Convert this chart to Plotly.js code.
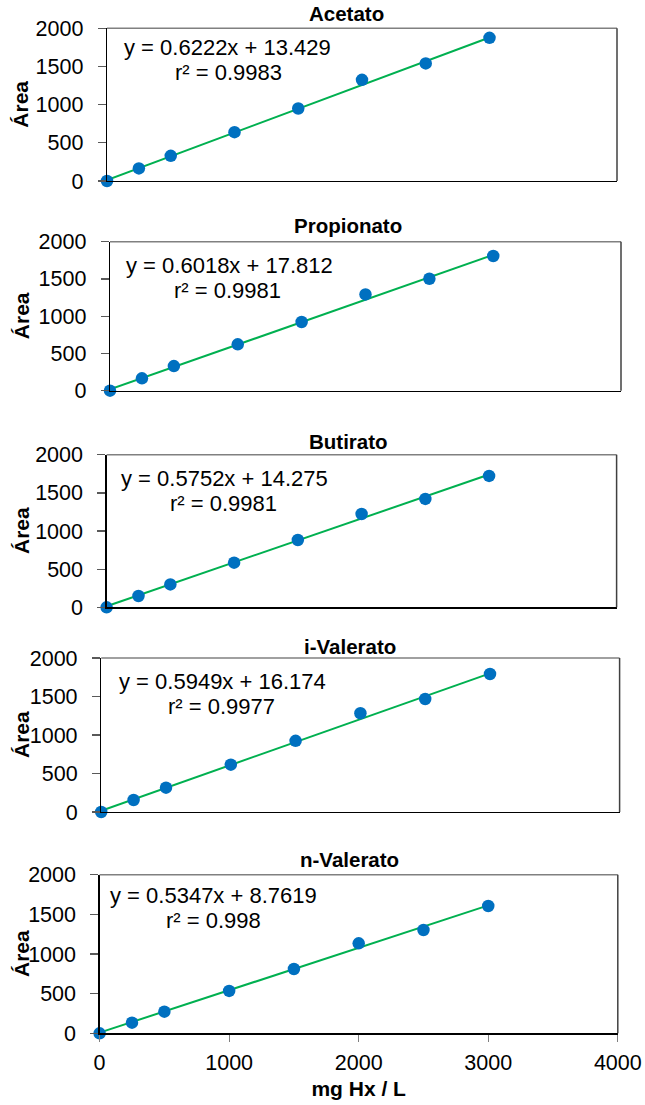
<!DOCTYPE html>
<html>
<head>
<meta charset="utf-8">
<script src="https://cdn.plot.ly/plotly-3.0.1.min.js"></script>
<style>
  html, body { margin: 0; padding: 0; background: #ffffff; }
  #chart { width: 645px; height: 1105px; }
</style>
</head>
<body>
<div id="chart"></div>
<script>
// ---------- data ----------
const concentrations = [0, 250, 500, 1000, 1500, 2000, 2500, 3000];   // mg Hx / L
const panelTitles = ["Acetato", "Propionato", "Butirato", "i-Valerato", "n-Valerato"];

const acetato    = [0, 165, 330, 640, 950, 1325, 1540, 1875];
const propionato = [0, 166, 330, 622, 922, 1292, 1503, 1808];
const butirato   = [0, 148, 300, 585, 882, 1223, 1420, 1722];
const iValerato  = [0, 156, 316, 615, 924, 1283, 1468, 1792];
const nValerato  = [0, 134, 273, 534, 811, 1134, 1303, 1605];

// trend-line end points (x = 0 and x = 3000), from the equations shown
const fitX = [0, 3000];
const acetatoFit    = [13.429, 1880.0];
const propionatoFit = [17.812, 1823.2];
const butiratoFit   = [14.275, 1739.9];
const iValeratoFit  = [16.174, 1800.9];
const nValeratoFit  = [8.7619, 1612.9];

const equations = ["y = 0.6222x + 13.429", "y = 0.6018x + 17.812", "y = 0.5752x + 14.275",
                   "y = 0.5949x + 16.174", "y = 0.5347x + 8.7619"];
const r2Labels  = ["r² = 0.9983", "r² = 0.9981", "r² = 0.9981", "r² = 0.9977", "r² = 0.998"];

const yTickVals = [0, 500, 1000, 1500, 2000];
const xTickVals = [0, 1000, 2000, 3000, 4000];

const seriesY = [acetato, propionato, butirato, iValerato, nValerato];
const fitY = [acetatoFit, propionatoFit, butiratoFit, iValeratoFit, nValeratoFit];

// ---------- layout geometry (pixels) ----------
const W = 645, H = 1105;
const boxes = [
  {l: 107,   r: 617,   t: 28.3,  b: 181},
  {l: 110,   r: 621,   t: 241.7, b: 390.7},
  {l: 106.6, r: 616.6, t: 454.7, b: 607.3},
  {l: 101.2, r: 619.6, t: 658,   b: 812},
  {l: 99.6,  r: 617.8, t: 874.7, b: 1033.3}
];
const titlePos = [[346, 14], [348, 226], [348, 441], [349.7, 646], [349.7, 859]];
const eqPos = [[227.4, 48, 228, 73], [229, 265.7, 227.7, 290.7], [224, 478.3, 223.4, 503.3],
               [222, 681.7, 221.5, 706.7], [213.3, 895, 213.7, 920]];

const FONT = "Liberation Sans, Arial, Helvetica, sans-serif";
const px = v => v / W;
const py = v => 1 - v / H;

const traces = [];
const layout = {
  width: W, height: H,
  margin: {l: 0, r: 0, t: 0, b: 0},
  paper_bgcolor: "#ffffff",
  plot_bgcolor: "#ffffff",
  showlegend: false,
  font: {family: FONT, color: "#000000"},
  annotations: [],
  shapes: []
};

boxes.forEach((bx, i) => {
  const n = i + 1;
  const xa = n === 1 ? "x" : "x" + n;
  const ya = n === 1 ? "y" : "y" + n;
  const isLast = i === boxes.length - 1;

  traces.push({
    x: fitX, y: fitY[i], xaxis: xa, yaxis: ya,
    type: "scatter", mode: "lines",
    line: {color: "#00B050", width: 2},
    hoverinfo: "skip", cliponaxis: false
  });
  traces.push({
    x: concentrations, y: seriesY[i], xaxis: xa, yaxis: ya,
    type: "scatter", mode: "markers",
    marker: {color: "#0070C0", size: 12.5},
    cliponaxis: false
  });

  layout["xaxis" + (n === 1 ? "" : n)] = {
    domain: [px(bx.l), px(bx.r)],
    anchor: ya,
    range: [0, 4000],
    showgrid: false, zeroline: false,
    showline: true, linecolor: "#000000", linewidth: 1.3,
    ticks: isLast ? "outside" : "",
    ticklen: 7, tickcolor: "#7f7f7f", tickwidth: 1.3,
    tickvals: xTickVals,
    showticklabels: isLast,
    tickfont: {family: FONT, size: 21.5, color: "#000000"},
    ticklabelstandoff: 3,
    title: isLast ? {text: "<b>mg Hx / L</b>", font: {family: FONT, size: 21, color: "#000000"}, standoff: 7} : {text: ""},
    fixedrange: true
  };
  layout["yaxis" + (n === 1 ? "" : n)] = {
    domain: [py(bx.b), py(bx.t)],
    anchor: xa,
    range: [0, 2000],
    showgrid: false, zeroline: false,
    showline: true, linecolor: "#000000", linewidth: 1.3,
    ticks: "outside", ticklen: 8, tickcolor: "#595959", tickwidth: 1.3,
    tickvals: yTickVals,
    tickfont: {family: FONT, size: 21.5, color: "#000000"},
    ticklabelstandoff: 10,
    fixedrange: true
  };

  // top and right borders of the plot box (grey like the reference)
  layout.shapes.push({type: "line", xref: "paper", yref: "paper",
    x0: px(bx.l), x1: px(bx.r), y0: py(bx.t), y1: py(bx.t),
    line: {color: "#808080", width: 1.5}});
  layout.shapes.push({type: "line", xref: "paper", yref: "paper",
    x0: px(bx.r), x1: px(bx.r), y0: py(bx.t), y1: py(bx.b),
    line: {color: "#404040", width: 1.5}});

  // panel title
  layout.annotations.push({
    text: "<b>" + panelTitles[i] + "</b>", xref: "paper", yref: "paper",
    x: px(titlePos[i][0]), y: py(titlePos[i][1]), xanchor: "center", yanchor: "middle",
    showarrow: false, font: {family: FONT, size: 20.5, color: "#000000"}
  });
  // y-axis title
  layout.annotations.push({
    text: "<b>Área</b>", xref: "paper", yref: "paper",
    x: px(21), y: py((bx.t + bx.b) / 2), xanchor: "center", yanchor: "middle",
    textangle: -90, showarrow: false, font: {family: FONT, size: 21, color: "#000000"}
  });
  // trend-line equation and r²
  const e = eqPos[i];
  layout.annotations.push({
    text: equations[i], xref: "paper", yref: "paper",
    x: px(e[0]), y: py(e[1]), xanchor: "center", yanchor: "middle",
    showarrow: false, font: {family: FONT, size: 22, color: "#000000"}
  });
  layout.annotations.push({
    text: r2Labels[i], xref: "paper", yref: "paper",
    x: px(e[2]), y: py(e[3]), xanchor: "center", yanchor: "middle",
    showarrow: false, font: {family: FONT, size: 22, color: "#000000"}
  });
});

Plotly.newPlot("chart", traces, layout, {displayModeBar: false, staticPlot: true});
</script>
</body>
</html>
